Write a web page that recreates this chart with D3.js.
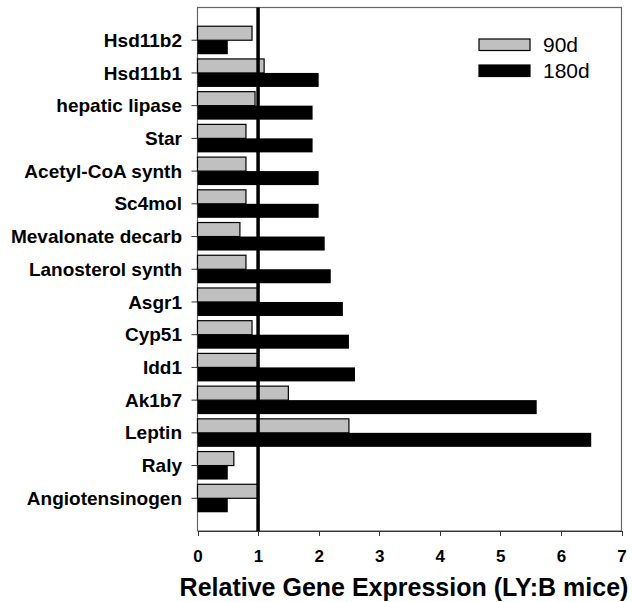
<!DOCTYPE html>
<head>
  <meta charset="utf-8">
  <style>
    body { margin: 0; background: #fff; }
    text { font-family: Arial, "Liberation Sans", sans-serif; }
    .xaxis text { font-family: Arial, "Liberation Sans", sans-serif; font-size: 17px; font-weight: bold; fill: #000; }
    .xaxis line, .xaxis path { stroke: #333; shape-rendering: crispEdges; }
  </style>
  <script src="https://cdn.jsdelivr.net/npm/d3@7/dist/d3.min.js"></script>
</head>
<body>
<script>
  var w = 632, h = 602;

  // genes, top to bottom
  var genes = ["Hsd11b2", "Hsd11b1", "hepatic lipase", "Star", "Acetyl-CoA synth",
               "Sc4mol", "Mevalonate decarb", "Lanosterol synth", "Asgr1", "Cyp51",
               "Idd1", "Ak1b7", "Leptin", "Raly", "Angiotensinogen"];
  var d90  = [0.9, 1.1, 0.95, 0.8, 0.8, 0.8, 0.7, 0.8, 1.0, 0.9, 1.0, 1.5, 2.5, 0.6, 1.0];
  var d180 = [0.5, 2.0, 1.9, 1.9, 2.0, 2.0, 2.1, 2.2, 2.4, 2.5, 2.6, 5.6, 6.5, 0.5, 0.5];
  var xTicks = [0, 1, 2, 3, 4, 5, 6, 7];
  var seriesNames = ["90d", "180d"];

  var pLeft = 197.5, pRight = 621.5, pTop = 7.5, pBottom = 531;

  var x = d3.scaleLinear().domain([0, 7]).range([pLeft, pRight]);
  var y = d3.scalePoint().domain(genes).range([pTop, pBottom]).padding(1);
  var barH = 14;

  var svg = d3.select("body").append("svg")
    .attr("width", w).attr("height", h);

  // plot frame
  svg.append("rect")
    .attr("x", pLeft).attr("y", pTop)
    .attr("width", pRight - pLeft).attr("height", pBottom - pTop)
    .attr("fill", "none").attr("stroke", "#666").attr("stroke-width", 1.2);

  // 90d bars
  svg.selectAll("rect.b90")
    .data(genes)
    .enter().append("rect")
    .attr("class", "b90")
    .attr("x", x(0))
    .attr("y", function(d) { return y(d) - barH; })
    .attr("width", function(d, i) { return x(d90[i]) - x(0); })
    .attr("height", barH)
    .attr("fill", "#c0c0c0")
    .attr("stroke", "#000")
    .attr("stroke-width", 1.2);

  // 180d bars
  svg.selectAll("rect.b180")
    .data(genes)
    .enter().append("rect")
    .attr("class", "b180")
    .attr("x", x(0))
    .attr("y", function(d) { return y(d); })
    .attr("width", function(d, i) { return x(d180[i]) - x(0); })
    .attr("height", barH)
    .attr("fill", "#000");

  // reference line at 1
  svg.append("line")
    .attr("x1", x(1)).attr("x2", x(1))
    .attr("y1", pTop).attr("y2", pBottom)
    .attr("stroke", "#000").attr("stroke-width", 3.5);

  // category ticks and labels
  svg.selectAll("line.ytick")
    .data(genes)
    .enter().append("line")
    .attr("class", "ytick")
    .attr("x1", pLeft - 6).attr("x2", pLeft)
    .attr("y1", function(d) { return y(d); })
    .attr("y2", function(d) { return y(d); })
    .attr("stroke", "#333");

  svg.selectAll("text.ylab")
    .data(genes)
    .enter().append("text")
    .attr("class", "ylab")
    .attr("x", 182)
    .attr("y", function(d) { return y(d); })
    .attr("dy", "0.35em")
    .attr("text-anchor", "end")
    .attr("font-size", "19px")
    .attr("font-weight", "bold")
    .text(function(d) { return d; });

  // x axis
  var xAxis = d3.axisBottom(x).tickValues(xTicks).tickSize(5).tickPadding(14)
    .tickFormat(d3.format("d"));
  svg.append("g")
    .attr("class", "xaxis")
    .attr("transform", "translate(0," + pBottom + ")")
    .call(xAxis);

  svg.append("text")
    .attr("x", 404).attr("y", 596)
    .attr("text-anchor", "middle")
    .attr("font-size", "25px")
    .attr("font-weight", "bold")
    .text("Relative Gene Expression (LY:B mice)");

  // legend
  var legend = svg.selectAll("g.legend")
    .data(seriesNames)
    .enter().append("g")
    .attr("class", "legend")
    .attr("transform", function(d, i) { return "translate(479," + (39 + i * 26) + ")"; });

  legend.append("rect")
    .attr("width", 51).attr("height", 11.5)
    .attr("fill", function(d, i) { return i === 0 ? "#c0c0c0" : "#000"; })
    .attr("stroke", "#000").attr("stroke-width", 1.2);

  legend.append("text")
    .attr("x", 64).attr("y", 6)
    .attr("dy", "0.35em")
    .attr("font-size", "21px")
    .text(function(d) { return d; });
</script>
</body>
